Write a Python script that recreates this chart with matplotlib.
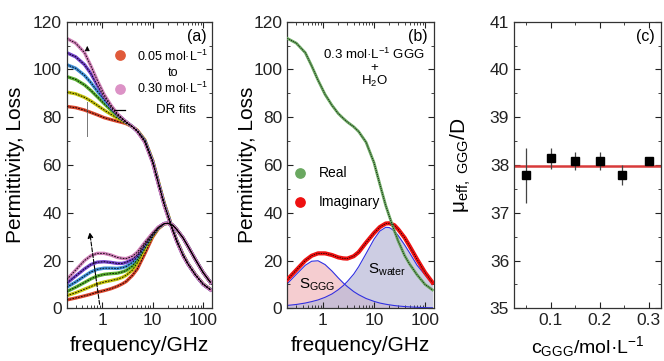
import matplotlib.pyplot as plt
from matplotlib.ticker import MultipleLocator, LogLocator, NullFormatter, FixedLocator, FixedFormatter

plt.rcParams['font.family'] = ['Liberation Sans', 'DejaVu Sans']
plt.rcParams['mathtext.fontset'] = 'custom'
plt.rcParams['mathtext.rm'] = 'Liberation Sans'
plt.rcParams['mathtext.it'] = 'Liberation Sans:italic'

freq = [0.2, 0.3, 0.45, 0.6, 0.8, 1.1, 1.5, 2, 2.5, 3, 4, 5, 7, 10, 13, 17, 20, 25, 30, 40, 50, 70, 100, 140]

conc = ['0.05', '0.10', '0.15', '0.20', '0.25', '0.30']
colores = ['#d9442b', '#c4c20a', '#58b030', '#3f8fd6', '#7040c8', '#d080b8']

# real part (permittivity), 0.05 -> 0.30 mol/L
real_005 = [84.5, 84, 83, 82, 81, 79.8, 79, 78.3, 77.8, 77.3, 76, 74.5, 70.5, 62, 53, 44, 39.5, 33, 28.5, 22.5, 18.8, 14.2, 10.2, 7.9]
real_010 = [90.5, 89.8, 88.3, 86.8, 85, 83, 81.2, 79.6, 78.6, 77.6, 76, 74.3, 70.3, 61.8, 52.8, 43.8, 39.3, 33, 28.4, 22.4, 18.7, 14.1, 10.1, 7.9]
real_015 = [97, 95.8, 93.5, 91.2, 88.6, 85.7, 83, 80.6, 79.2, 78, 76, 74.2, 70.1, 61.6, 52.6, 43.6, 39.1, 32.9, 28.3, 22.3, 18.6, 14.1, 10.1, 7.8]
real_020 = [102, 100.5, 97.5, 94.5, 91, 87.3, 84, 81, 79.4, 78, 76, 74.1, 70, 61.4, 52.4, 43.4, 38.9, 32.8, 28.2, 22.2, 18.6, 14, 10, 7.8]
real_025 = [107, 105.3, 102, 98.3, 93.5, 88.6, 84.6, 81.3, 79.5, 78, 76, 74, 69.8, 61.2, 52.2, 43.2, 38.7, 32.6, 28.1, 22.1, 18.5, 14, 10, 7.7]
real_030 = [113, 111, 107, 101.5, 95.5, 89.5, 85, 81.5, 79.5, 78, 76, 74, 69.5, 61, 52, 43, 38.5, 32.5, 28, 22, 18.5, 14, 10, 7.7]

# imaginary part (loss)
imag_005 = [3.5, 4.3, 5.2, 5.9, 6.7, 7.4, 8.2, 9.2, 10.2, 11.2, 13.8, 16.5, 22.8, 29.8, 33.3, 35.3, 35.6, 34.8, 33, 29.5, 26, 20.5, 15, 10.8]
imag_010 = [5.3, 6.5, 8, 9.1, 10.2, 11, 11.6, 12.2, 12.9, 13.8, 16, 19, 24.8, 30.4, 33.6, 35.4, 35.6, 34.8, 33, 29.5, 26, 20.5, 15, 10.8]
imag_015 = [7, 8.8, 10.8, 12.3, 13.5, 14.2, 14.5, 14.7, 15.2, 15.8, 17.7, 20.5, 26, 30.7, 33.7, 35.4, 35.6, 34.8, 33, 29.5, 26, 20.5, 15, 10.8]
imag_020 = [8.8, 11, 13.5, 15.2, 16.3, 16.8, 16.8, 16.7, 17, 17.5, 19.2, 21.6, 26.5, 31, 33.8, 35.5, 35.6, 34.8, 33, 29.5, 26, 20.5, 15, 10.8]
imag_025 = [10.5, 13.5, 16.5, 18.3, 19.3, 19.5, 19.2, 18.8, 18.8, 19.2, 20.5, 22.5, 27, 31.2, 33.9, 35.5, 35.6, 34.8, 33, 29.5, 26, 20.5, 15, 10.8]
imag_030 = [12, 16, 20, 22, 23, 23, 22.3, 21.3, 20.9, 20.8, 21.8, 23.5, 27.5, 31.5, 34, 35.5, 35.6, 34.8, 33, 29.5, 26, 20.5, 15, 10.8]

reales = [real_005, real_010, real_015, real_020, real_025, real_030]
imags = [imag_005, imag_010, imag_015, imag_020, imag_025, imag_030]

# panel (b): relaxation contributions at 0.3 mol/L
s_ggg = [10.3, 14.2, 18, 19.7, 19.9, 18.3, 15.6, 12.7, 10.6, 9.1, 7, 5.7, 4.1, 2.9, 2.2, 1.7, 1.45, 1.15, 0.96, 0.72, 0.58, 0.41, 0.29, 0.21]
s_water = [1.2, 1.6, 2.2, 2.8, 3.5, 4.6, 6, 7.8, 9.5, 11.2, 14.3, 17.4, 22.9, 28.9, 32.3, 33.9, 33.8, 32.4, 30.4, 26.5, 23.2, 18, 14, 10.3]

# panel (c): effective dipole moment
c_ggg = [0.05, 0.10, 0.15, 0.20, 0.245, 0.30]
mu_eff = [37.78, 38.14, 38.09, 38.09, 37.79, 38.09]
mu_err = [0.57, 0.22, 0.19, 0.19, 0.21, 0.05]
mu_prom = 37.97

fig = plt.figure(figsize=(6.64, 3.61), dpi=100)
ax1 = fig.add_axes([0.1005, 0.146, 0.2188, 0.794])
ax2 = fig.add_axes([0.4327, 0.146, 0.2209, 0.794])
ax3 = fig.add_axes([0.7741, 0.146, 0.2214, 0.794])

def estilo(ax):
    ax.tick_params(direction='in', which='both', top=True, right=True, labelsize=12.5, colors='#222222')
    ax.tick_params(which='major', length=4)
    ax.tick_params(which='minor', length=2.2)
    for s in ax.spines.values():
        s.set_color('#333333')
        s.set_linewidth(0.9)

def estilo_freq(ax):
    ax.set_xscale('log')
    ax.set_xlim(0.2, 150)
    ax.set_ylim(0, 120)
    ax.xaxis.set_major_locator(FixedLocator([1, 10, 100]))
    ax.xaxis.set_major_formatter(FixedFormatter(['1', '10', '100']))
    ax.xaxis.set_minor_locator(LogLocator(base=10, subs=range(2, 10)))
    ax.xaxis.set_minor_formatter(NullFormatter())
    ax.yaxis.set_major_locator(MultipleLocator(20))
    ax.yaxis.set_minor_locator(MultipleLocator(10))
    ax.set_xlabel('frequency/GHz', fontsize=15)
    ax.set_ylabel('Permittivity, Loss', fontsize=15)
    estilo(ax)

# ---- panel (a)
estilo_freq(ax1)
for i in range(6):
    ax1.plot(freq, reales[i], color=colores[i], lw=2.4, zorder=2)
    ax1.plot(freq, imags[i], color=colores[i], lw=2.4, zorder=2)
for i in range(6):
    ax1.plot(freq, reales[i], color='black', lw=0.6, ls=(0, (2, 1.5)), zorder=3)
    ax1.plot(freq, imags[i], color='black', lw=0.6, ls=(0, (2, 1.5)), zorder=3)

ax1.text(0.96, 0.975, '(a)', transform=ax1.transAxes, ha='right', va='top', fontsize=11.5)
ax1.scatter([2.25], [106], s=45, color='#e05a3a', zorder=4)
ax1.scatter([2.25], [92], s=45, color='#dc92c6', zorder=4)
ax1.text(25, 105.5, '0.05 mol·L$^{-1}$', ha='center', va='center', fontsize=9)
ax1.text(25, 98.5, 'to', ha='center', va='center', fontsize=9)
ax1.text(25, 92, '0.30 mol·L$^{-1}$', ha='center', va='center', fontsize=9)
ax1.plot([1.8, 2.9], [83, 83], color='black', lw=0.9)
ax1.text(29, 83, 'DR fits', ha='center', va='center', fontsize=9.5)
# arrows showing increasing concentration
ax1.plot([0.5, 0.5], [72, 86.5], color='#777777', lw=0.7)
ax1.annotate('', xy=(0.51, 111), xytext=(0.51, 107.5),
             arrowprops=dict(arrowstyle='-|>', color='black', lw=0.6, mutation_scale=7))
ax1.annotate('', xy=(0.56, 33), xytext=(0.91, 0.5),
             arrowprops=dict(arrowstyle='-|>', color='black', lw=0.8, ls='--', mutation_scale=8))

# ---- panel (b)
estilo_freq(ax2)
ax2.fill_between(freq, 0, s_ggg, color='#f2b8bc', alpha=0.7, lw=0, zorder=1)
ax2.fill_between(freq, 0, s_water, color='#b8b8d8', alpha=0.7, lw=0, zorder=1)
ax2.plot(freq, s_ggg, color='#3030e0', lw=0.8, zorder=2)
ax2.plot(freq, s_water, color='#3030e0', lw=0.8, zorder=2)
ax2.plot(freq, imag_030, color='#ee1111', lw=3, zorder=3)
ax2.plot(freq, imag_030, color='black', lw=0.5, ls=(0, (2, 1.5)), zorder=4)
ax2.plot(freq, real_030, color='#6aa860', lw=2, zorder=3)
ax2.plot(freq, real_030, color='black', lw=0.5, ls=(0, (1.5, 1.5)), zorder=4)

ax2.text(0.96, 0.975, '(b)', transform=ax2.transAxes, ha='right', va='top', fontsize=11.5)
ax2.text(10, 100.8, '0.3 mol·L$^{-1}$ GGG\n+\nH$_2$O', ha='center', va='center',
         fontsize=9.5, linespacing=1.0, multialignment='center')
ax2.scatter([0.35], [56.5], s=45, color='#6aa860', zorder=4)
ax2.scatter([0.35], [44.5], s=45, color='#ee1111', zorder=4)
ax2.text(0.82, 56.5, 'Real', ha='left', va='center', fontsize=10)
ax2.text(0.82, 44.5, 'Imaginary', ha='left', va='center', fontsize=10)
ax2.text(0.78, 10, 'S$_{\\rm GGG}$', ha='center', va='center', fontsize=11)
ax2.text(18, 16, 'S$_{\\rm water}$', ha='center', va='center', fontsize=11)

# ---- panel (c)
ax3.errorbar(c_ggg, mu_eff, yerr=mu_err, fmt='s', color='black', ms=6,
             ecolor='#444444', elinewidth=0.9, capsize=0, zorder=3)
ax3.axhline(mu_prom, color='#d83a3a', lw=1.8, zorder=2)
ax3.set_xlim(0.025, 0.325)
ax3.set_ylim(35, 41)
ax3.xaxis.set_major_locator(MultipleLocator(0.1))
ax3.xaxis.set_minor_locator(MultipleLocator(0.05))
ax3.yaxis.set_major_locator(MultipleLocator(1))
ax3.yaxis.set_minor_locator(MultipleLocator(0.5))
ax3.text(0.96, 0.975, '(c)', transform=ax3.transAxes, ha='right', va='top', fontsize=11.5)
ax3.set_xlabel('c$_{\\rm GGG}$/mol·L$^{-1}$', fontsize=14)
ax3.set_ylabel('μ$_{\\rm eff,\\ GGG}$/D', fontsize=15)
estilo(ax3)

ax1.yaxis.set_label_coords(-0.29, 0.5)
ax2.yaxis.set_label_coords(-0.21, 0.5)
ax3.yaxis.set_label_coords(-0.28, 0.5)
for ax in (ax1, ax2):
    ax.xaxis.set_label_coords(0.5, -0.095)
ax3.xaxis.set_label_coords(0.5, -0.09)

fig.savefig('out.png', dpi=100)
